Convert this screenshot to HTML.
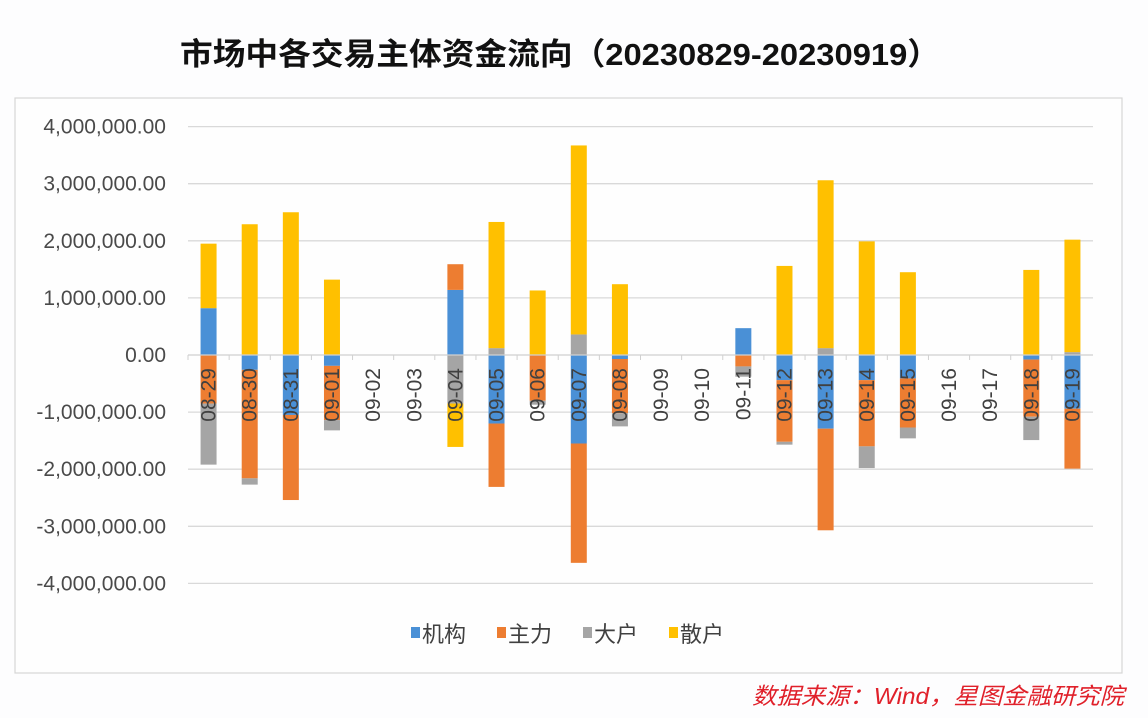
<!DOCTYPE html>
<html><head><meta charset="utf-8">
<style>
html,body{margin:0;padding:0;background:#fdfdfe;width:1148px;height:718px;overflow:hidden;}
svg{display:block;font-family:"Liberation Sans","Noto Sans CJK SC",sans-serif;}
</style></head>
<body>
<svg id="chart" width="1148" height="718" viewBox="0 0 1148 718">
  <text x="560" y="65" text-anchor="middle" font-size="31" font-weight="bold" fill="#111" textLength="760" lengthAdjust="spacingAndGlyphs" font-family="'Liberation Sans','Noto Sans CJK SC',sans-serif">市场中各交易主体资金流向（20230829-20230919）</text>
  <rect x="15" y="98" width="1107" height="575" fill="#fefefe" stroke="#d6d6d6" stroke-width="1.2"/>
  <g id="grid"></g>
  <g id="bars"></g>
  <g id="xlabels"></g>
  <g id="legend"></g>
  <text x="1124" y="704" text-anchor="end" font-size="23" font-style="italic" fill="#e0202a" textLength="372" lengthAdjust="spacingAndGlyphs">数据来源：Wind，星图金融研究院</text>
</svg>
<script>
const categories = ["08-29","08-30","08-31","09-01","09-02","09-03","09-04","09-05","09-06","09-07","09-08","09-09","09-10","09-11","09-12","09-13","09-14","09-15","09-16","09-17","09-18","09-19"];
const jigou = [820000,-260000,-1050000,-190000,0,0,1140000,-1200000,0,-1550000,-70000,0,0,470000,-440000,-1290000,-440000,-410000,0,0,-80000,-940000];
const zhuli = [-850000,-1900000,-1490000,-950000,0,0,450000,-1110000,-800000,-2090000,-950000,0,0,-200000,-1080000,-1780000,-1160000,-860000,0,0,-1000000,-1050000];
const dahu = [-1070000,-110000,0,-180000,0,0,-850000,120000,-70000,360000,-230000,0,0,-180000,-50000,120000,-380000,-190000,0,0,-410000,50000];
const sanhu = [1130000,2290000,2500000,1320000,0,0,-760000,2210000,1130000,3310000,1240000,0,0,0,1560000,2940000,1990000,1450000,0,0,1490000,1970000];
const yTicks = [4000000,3000000,2000000,1000000,0,-1000000,-2000000,-3000000,-4000000];
const yTickLabels = ["4,000,000.00","3,000,000.00","2,000,000.00","1,000,000.00","0.00","-1,000,000.00","-2,000,000.00","-3,000,000.00","-4,000,000.00"];
const seriesNames = ["机构","主力","大户","散户"];
const seriesColors = ["#4a90d6","#ed7d31","#a5a5a5","#ffc000"];

const NS="http://www.w3.org/2000/svg";
const plotL=188, plotR=1093, yZero=355, pxPerM=57.1;
const band=(plotR-plotL)/categories.length, barW=16;
function yS(v){return yZero - v/1e6*pxPerM;}
function xS(i){return plotL + band*(i+0.5);}
function mk(tag,attrs,parent){const e=document.createElementNS(NS,tag);for(const k in attrs)e.setAttribute(k,attrs[k]);parent.appendChild(e);return e;}

const grid=document.getElementById('grid');
yTicks.forEach((t,i)=>{
  if(t!==0){
    const l=mk('line',{x1:plotL,x2:plotR,y1:yS(t),y2:yS(t),stroke:'#d9d9d9','stroke-width':1.3},grid);
    
    
  }
  const tx=mk('text',{x:166,y:yS(t)+7,'text-anchor':'end','font-size':21,fill:'#4a4a4a'},grid);
  tx.textContent=yTickLabels[i];
  
  
});

const bars=document.getElementById('bars');
const series=[jigou,zhuli,dahu,sanhu];
categories.forEach((c,i)=>{
  let pos=0,neg=0;
  series.forEach((s,k)=>{
    const v=s[i]; if(!v) return;
    let y0,y1;
    if(v>0){y0=pos;y1=pos+v;pos=y1;}else{y0=neg;y1=neg+v;neg=y1;}
    const top=Math.min(yS(y0),yS(y1)), h=Math.abs(yS(y1)-yS(y0));
    const r=mk('rect',{x:xS(i)-barW/2,y:top,width:barW,height:h,fill:seriesColors[k]},bars);
    
    
  });
});
const ax=mk('line',{x1:plotL,x2:plotR,y1:yZero,y2:yZero,stroke:'#d0d0d0','stroke-width':1.2},bars);


categories.forEach((c,i)=>{
  const tk=mk('line',{x1:plotL+band*i,x2:plotL+band*i,y1:yZero,y2:yZero+5,stroke:'#d0d0d0'},bars);
  
  
});
const xl=document.getElementById('xlabels');
categories.forEach((c,i)=>{
  const t=mk('text',{x:0,y:0,'text-anchor':'end','font-size':21,fill:'#404040',transform:`translate(${xS(i)+7},${yZero+13}) rotate(-90)`},xl);
  t.textContent=c;
  
  
});

const lg=document.getElementById('legend');
const lx=[411,497,583,669];
seriesNames.forEach((n,k)=>{
  const r=mk('rect',{x:lx[k],y:627,width:9,height:11,fill:seriesColors[k]},lg);
  
  
  const t=mk('text',{x:lx[k]+11,y:642,'font-size':22,fill:'#404040'},lg);
  t.textContent=n;
  
  
});
</script>
</body></html>
